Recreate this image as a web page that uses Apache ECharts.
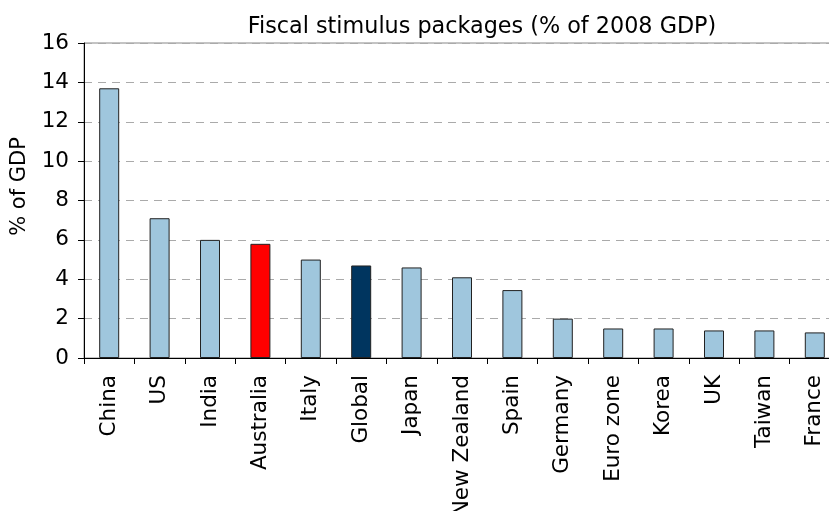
<!DOCTYPE html>
<html>
<head>
<meta charset="utf-8">
<script src="https://cdn.jsdelivr.net/npm/echarts@6/dist/echarts.min.js"></script>
<style>
  html, body { margin: 0; padding: 0; background: #fff; }
  #chart { width: 829px; height: 511px; }
</style>
</head>
<body>
<div id="chart"></div>
<script>
const countries = ['China', 'US', 'India', 'Australia', 'Italy', 'Global', 'Japan', 'New Zealand', 'Spain', 'Germany', 'Euro zone', 'Korea', 'UK', 'Taiwan', 'France']
const stimulus = [13.7, 7.1, 6.0, 5.8, 5.0, 4.7, 4.6, 4.1, 3.45, 2.0, 1.5, 1.5, 1.4, 1.4, 1.3]
const yTicks = [0, 2, 4, 6, 8, 10, 12, 14, 16]

const barColor = (name) => {
  if (name === 'Australia') return '#ff0000'
  if (name === 'Global') return '#00355f'
  return '#9fc6dd'
}

const chart = echarts.init(document.getElementById('chart'))
const font = 'DejaVu Sans'

chart.setOption({
  animation: false,
  title: {
    text: 'Fiscal stimulus packages (% of 2008 GDP)',
    left: 477,
    top: 11,
    textAlign: 'center',
    textStyle: { fontFamily: font, fontSize: 22.3, fontWeight: 'normal', color: '#000' }
  },
  grid: {
    left: 84,
    width: 756,
    top: 43,
    bottom: 153,
    outerBoundsMode: 'none',
    containLabel: false,
    show: true,
    borderColor: '#888',
    borderWidth: 1
  },
  xAxis: {
    type: 'category',
    data: countries,
    axisLine: { lineStyle: { color: '#000', width: 1 } },
    axisTick: { show: true, alignWithLabel: false, length: 6, lineStyle: { color: '#000' } },
    axisLabel: {
      rotate: 90,
      interval: 0,
      margin: 17,
      fontFamily: font,
      fontSize: 21.5,
      color: '#000'
    }
  },
  yAxis: {
    type: 'value',
    min: yTicks[0],
    max: yTicks[yTicks.length - 1],
    interval: 2,
    name: '% of GDP',
    nameLocation: 'middle',
    nameGap: 54,
    nameTextStyle: { fontFamily: font, fontSize: 21, color: '#000', padding: [0, 0, 0, 28] },
    axisLine: { show: true, lineStyle: { color: '#000', width: 1 } },
    axisTick: { show: true, length: 6, lineStyle: { color: '#000' } },
    axisLabel: { fontFamily: font, fontSize: 21.5, color: '#000', margin: 15 },
    splitLine: { show: true, lineStyle: { color: '#aaa', type: [8, 6], width: 1 } }
  },
  series: [{
    type: 'bar',
    barWidth: 20,
    data: countries.map((c, i) => ({
      value: stimulus[i],
      itemStyle: { color: barColor(c) }
    })),
    itemStyle: { borderColor: '#222', borderWidth: 1 }
  }]
})
</script>
</body>
</html>
